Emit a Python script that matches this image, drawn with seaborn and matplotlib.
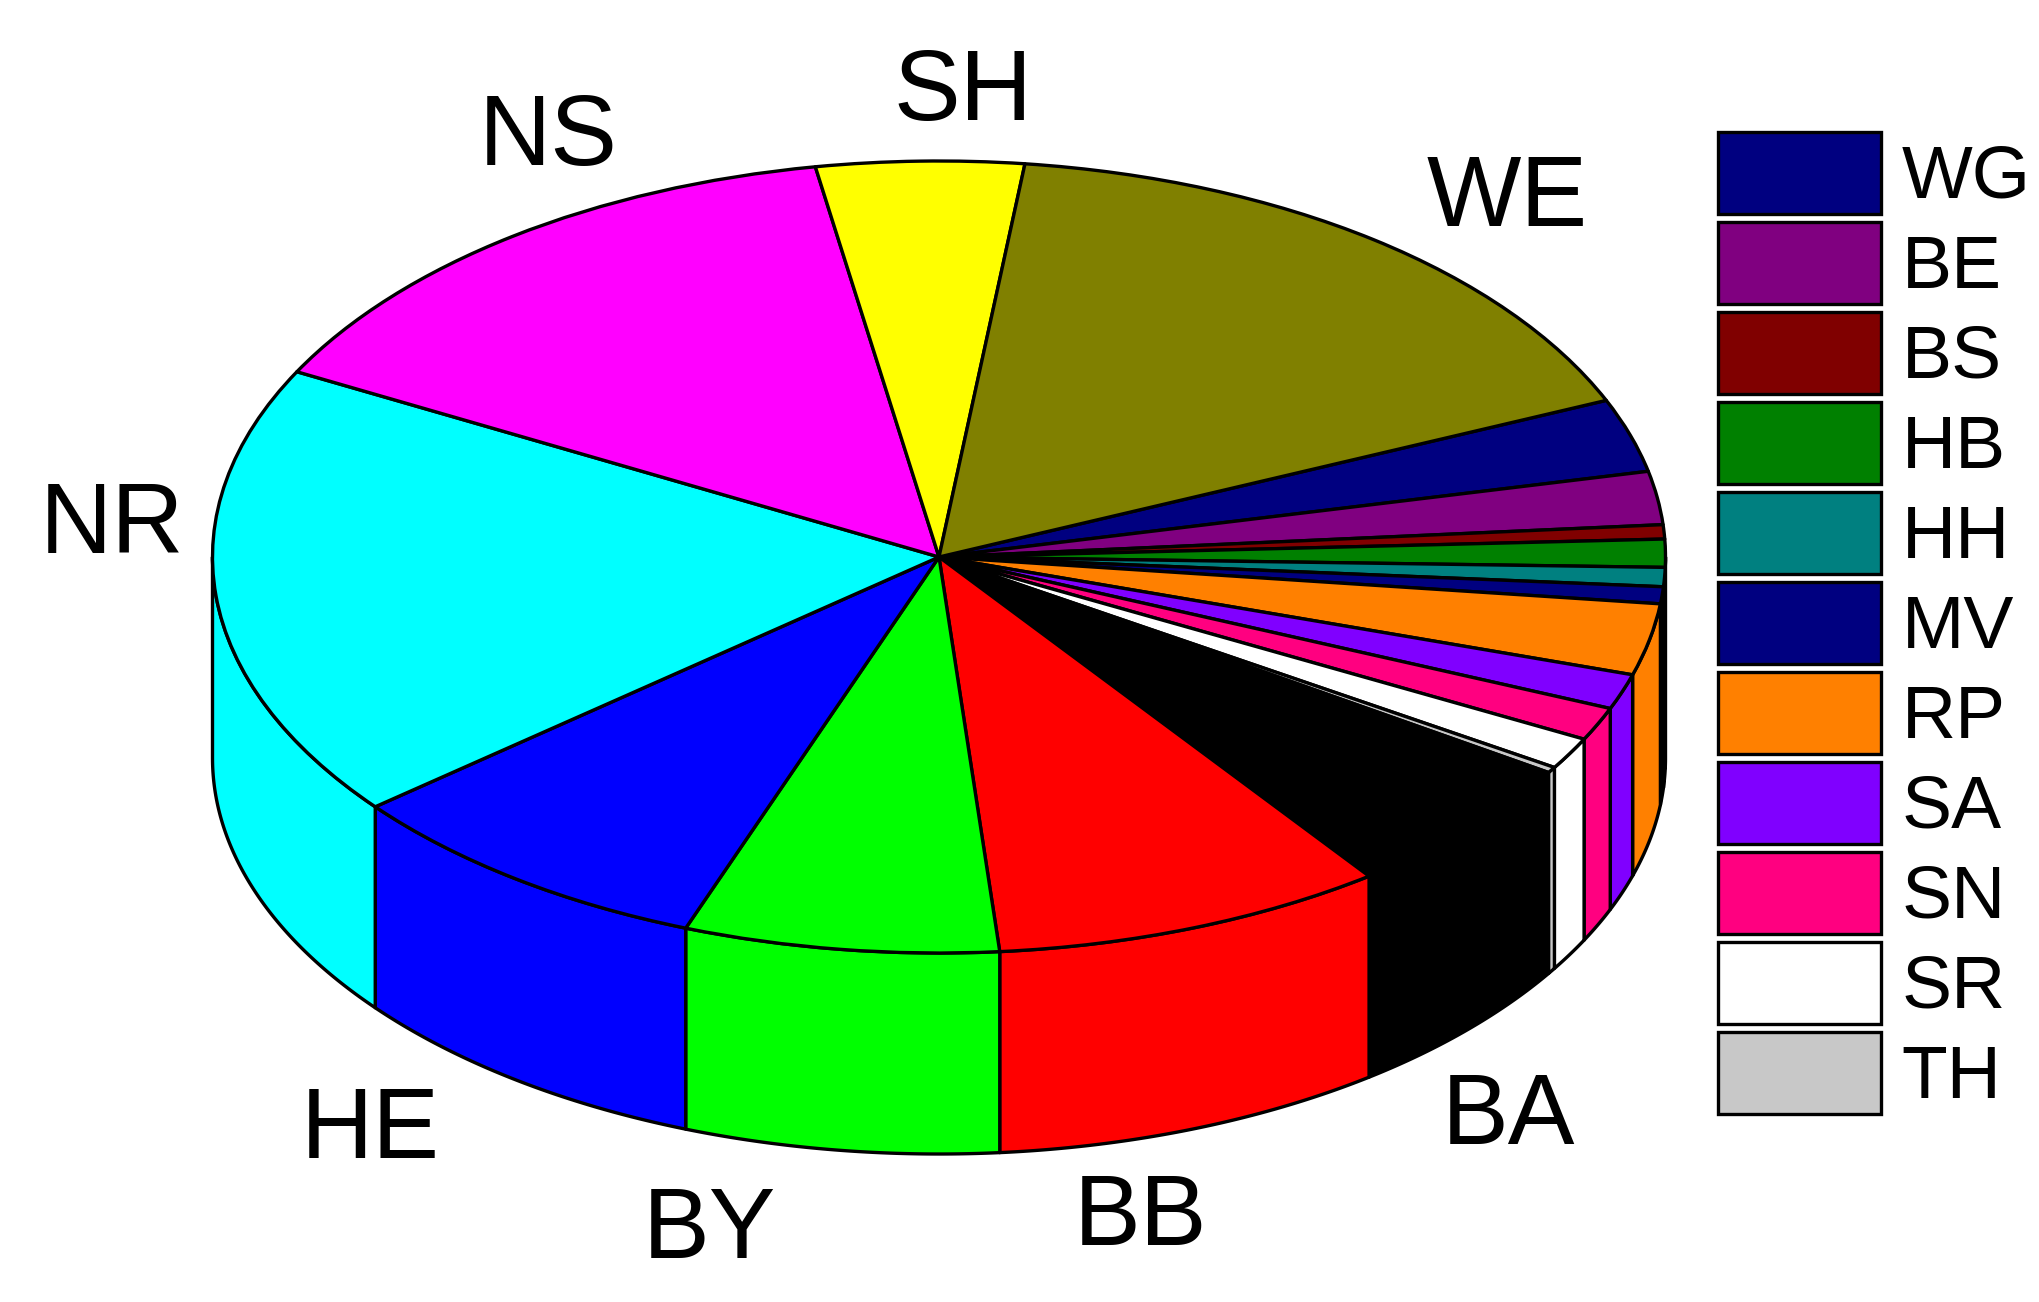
import numpy as np
import matplotlib
matplotlib.use("Agg")
import matplotlib.pyplot as plt
import seaborn as sns

# Slice order runs clockwise, beginning at the WG/WE boundary
names = ["WG", "BE", "BS", "HB", "HH", "MV", "RP", "SA", "SN", "SR", "TH",
         "BA", "BB", "BY", "HE", "NR", "NS", "SH", "WE"]
shares = [3.00, 2.17, 0.58, 1.14, 0.78, 0.69, 2.92, 1.44, 1.36, 1.31, 0.24,
          5.76, 8.75, 7.00, 8.47, 18.61, 14.53, 4.61, 16.64]
hex_colors = ["#000080", "#800080", "#800000", "#008000", "#008080", "#000080",
              "#FF8000", "#8000FF", "#FF0080", "#FFFFFF", "#C8C8C8",
              "#000000", "#FF0000", "#00FF00", "#0000FF", "#00FFFF",
              "#FF00FF", "#FFFF00", "#808000"]
legend_names = names[:11]
outer_labels = ["WE", "SH", "NS", "NR", "HE", "BY", "BB", "BA"]
outer_baseline_px = [(1507, 226), (963, 120), (548, 165), (112, 553),
                     (370, 1158), (709, 1258), (1141, 1245), (1509, 1144)]

W, H = 2040, 1302
CX, CY = 939.0, 557.0      # pie centre, px from top-left
RX, RY = 726.5, 396.0      # ellipse radii, px
DEPTH = 201.0 / RY         # wall height in ellipse units
START = 23.3
LW = 2.4

sns.set_theme(style="white", rc={"font.family": ["Liberation Sans", "DejaVu Sans"]})
palette = sns.color_palette(hex_colors)

fig = plt.figure(figsize=(W / 100, H / 100), dpi=100, facecolor="white")
ax = fig.add_axes([0, 0, 1, 1])

edge = {"edgecolor": "black", "linewidth": LW, "joinstyle": "round"}

vals = np.array(shares, dtype=float)
bounds = START - np.concatenate([[0], np.cumsum(vals) / vals.sum() * 360])
for i in range(len(vals)):
    hi, lo = bounds[i], bounds[i + 1]          # clockwise: hi -> lo
    # the visible rim is the front half, where sin(theta) < 0
    for k in (0, -360):
        a = max(lo, -180 + k)
        b = min(hi, 0 + k)
        if b > a:
            t = np.radians(np.linspace(a, b, 80))
            xs = np.concatenate([np.cos(t), np.cos(t[::-1])])
            ys = np.concatenate([np.sin(t), np.sin(t[::-1]) - DEPTH])
            ax.fill(xs, ys, facecolor=palette[i], zorder=1, **edge)

wedges, _ = ax.pie(vals, colors=palette, startangle=START, counterclock=False,
                   radius=1.0, wedgeprops=edge)
for w in wedges:
    w.set_zorder(2)

ax.set_aspect("auto")
ax.set_xlim(-CX / RX, (W - CX) / RX)
ax.set_ylim((CY - H) / RY, CY / RY)
ax.axis("off")
sns.despine(ax=ax, left=True, bottom=True)

def to_data(px, py):
    return (px - CX) / RX, (CY - py) / RY

for lab, (px, py) in zip(outer_labels, outer_baseline_px):
    x, y = to_data(px, py)
    ax.text(x, y, lab, fontsize=72, ha="center", va="baseline", color="black", zorder=5)

leg = ax.legend(wedges[:11], legend_names, loc="upper left",
                bbox_to_anchor=(1718 / W, 1 - 132 / H), bbox_transform=fig.transFigure,
                frameon=False, fontsize=54, borderpad=0, borderaxespad=0,
                handlelength=2.18, handleheight=1.30, labelspacing=0.11,
                handletextpad=0.27, labelcolor="black")

fig.savefig("out.png", dpi=100, facecolor="white")
